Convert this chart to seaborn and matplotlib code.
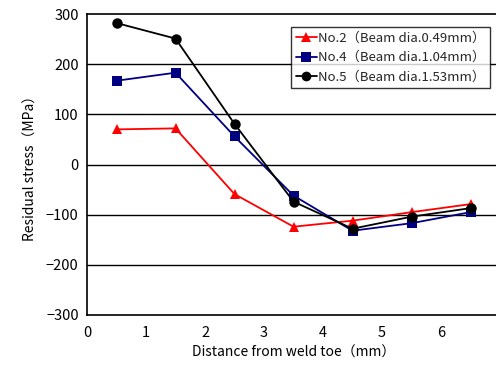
import matplotlib
matplotlib.use("Agg")
import matplotlib.pyplot as plt
import seaborn as sns
import pandas as pd

distance = [0.5, 1.5, 2.5, 3.5, 4.5, 5.5, 6.5]
no2 = [70, 72, -59, -124, -112, -95, -79]
no4 = [167, 183, 56, -62, -132, -117, -95]
no5 = [282, 251, 81, -74, -128, -104, -87]
labels = ["No.2（Beam dia.0.49mm）", "No.4（Beam dia.1.04mm）", "No.5（Beam dia.1.53mm）"]
colors = ["#ff0000", "#000080", "#000000"]
markers = ["^", "s", "o"]
yticks = [-300, -200, -100, 0, 100, 200, 300]
xticks = [0, 1, 2, 3, 4, 5, 6]

sns.set_theme(style="white")
plt.rcParams['font.family'] = ['Noto Sans CJK JP', 'DejaVu Sans']

df = pd.DataFrame({
    "x": distance * 3,
    "y": no2 + no4 + no5,
    "s": [labels[0]] * 7 + [labels[1]] * 7 + [labels[2]] * 7,
})

fig = plt.figure(figsize=(4.96, 3.72), dpi=100)
ax = fig.add_axes([87/496, 1 - 315/372, (500-87)/496, (315-14)/372])
ax.set_facecolor("white")
for yv in yticks[1:-1]:
    ax.axhline(yv, color="black", lw=1.0, zorder=0)

sns.lineplot(data=df, x="x", y="y", hue="s", style="s", palette=colors,
             markers=markers, dashes=False, ax=ax, lw=1.3, markersize=7.5,
             markeredgewidth=0, legend=True)

ax.set_xlim(0, 7)
ax.set_ylim(-300, 300)
ax.set_xticks(xticks)
ax.set_yticks(yticks)
ax.set_yticklabels([str(v).replace("-", "−") for v in yticks])
ax.tick_params(axis="x", direction="in", length=4, width=1, color="black", labelsize=10.5, pad=8)
ax.tick_params(axis="y", length=0, labelsize=10.5, pad=6)
for t in ax.get_xticklabels() + ax.get_yticklabels():
    t.set_color("black")
for s in ["left", "bottom", "top"]:
    ax.spines[s].set_color("black")
    ax.spines[s].set_linewidth(1.2)
ax.spines["right"].set_visible(False)
ax.set_xlabel("Distance from weld toe（mm）", fontsize=10, color="black", labelpad=4)
ax.set_ylabel("Residual stress（MPa）", fontsize=10, color="black", labelpad=6)

leg = ax.legend(loc="upper right", bbox_to_anchor=((490-87)/413, 1 - (27-14)/301),
                frameon=True, fancybox=False, fontsize=9.5, handlelength=1.6,
                handletextpad=0.1, borderpad=0.35, labelspacing=0.5, borderaxespad=0)
leg.get_frame().set_edgecolor("black")
leg.get_frame().set_linewidth(1.0)
for h in leg.legend_handles:
    h.set_markersize(7)

fig.savefig("out.png", dpi=100, facecolor="white")
